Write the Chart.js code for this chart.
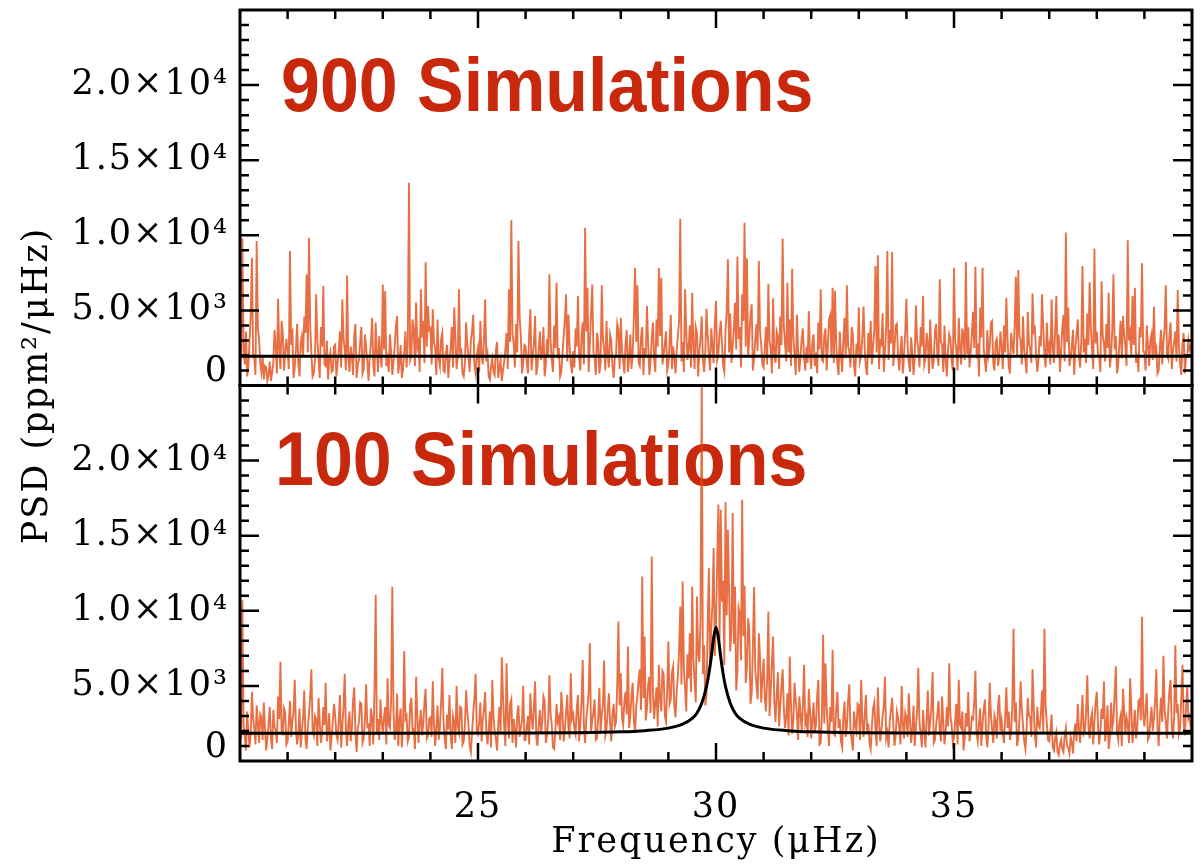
<!DOCTYPE html>
<html>
<head>
<meta charset="utf-8">
<title>PSD of simulated spectra</title>
<script src="https://cdn.jsdelivr.net/npm/chart.js@4.4.1/dist/chart.umd.min.js"></script>
<style>
  html, body { margin: 0; padding: 0; background: #fff; }
</style>
</head>
<body>
<canvas id="psdChart" width="1204" height="864"></canvas>
<script>
// Frequency sampling of the averaged spectra (μHz)
const binStart = 20;
const binWidth = 0.025;

// Averaged PSD, 900 simulations (ppm^2/μHz), one value per bin, 40 bins per μHz
const psd900 = [
  3200, 1800, 9780, 2500, 1400, 3600, 600, 1200, 2900, 4700, 8500, 2100, 1900, 700, 9620, 3800, 3100, 1500, 900, 2000,
  400, 1300, 1200, 300, 700, 1600, 300, 900, 1500, 3700, 2600, 800, 5780, 2400, 1100, 4300, 3400, 1000, 2200, 3100,
  2300, 1100, 8950, 2700, 3800, 500, 1200, 2400, 4100, 1500, 600, 2900, 3300, 1900, 4600, 3500, 7400, 2200, 9840, 4000,
  2100, 600, 800, 1700, 6070, 3100, 1700, 500, 3900, 2600, 6620, 1400, 1300, 3000, 400, 1800, 2200, 900, 1000, 2600,
  2700, 600, 1500, 2300, 3600, 1200, 5730, 3100, 2400, 1000, 7330, 1800, 900, 2600, 2000, 700, 3300, 4100, 500, 1400,
  1700, 2900, 3900, 800, 1100, 3400, 2500, 1600, 300, 1900, 2800, 4500, 1400, 600, 4200, 2300, 900, 3300, 2100, 1200,
  6730, 2400, 6290, 1300, 1800, 900, 3400, 2200, 700, 1600, 2600, 3900, 4620, 800, 1500, 2700, 500, 1100, 2300, 3600,
  1200, 2800, 13500, 1700, 2000, 4400, 3700, 1300, 5530, 2500, 2900, 900, 6400, 3200, 4300, 1500, 8200, 2600, 5290, 3700,
  3800, 1400, 5070, 2900, 2400, 700, 4400, 1800, 1300, 3100, 3500, 1000, 900, 2200, 2700, 500, 1600, 2500, 3900, 1200,
  5200, 3300, 1100, 1900, 6400, 2100, 2300, 800, 600, 1500, 4200, 2700, 1900, 900, 3000, 3600, 4730, 1300, 800, 2000,
  2500, 900, 4290, 2000, 1400, 3000, 5730, 1600, 2100, 600, 400, 1300, 1800, 900, 700, 2300, 2900, 500, 1200, 1700,
  300, 1000, 1600, 2400, 3500, 1100, 6400, 2900, 11000, 3400, 2800, 1200, 4100, 2200, 9620, 4500, 3300, 800, 1500, 2700,
  2600, 1500, 800, 3400, 5070, 1000, 2000, 2800, 4620, 700, 1300, 2400, 3600, 1700, 2200, 3900, 600, 1400, 3100, 2000,
  7400, 3000, 1700, 900, 4000, 2500, 6840, 1800, 2500, 600, 900, 2100, 3300, 4400, 6070, 1600, 4730, 2700, 1400, 800,
  2300, 1200, 3800, 2600, 5950, 1900, 1000, 3300, 4200, 1400, 10500, 3600, 6510, 900, 2700, 4800, 6730, 2200, 1900, 700,
  3500, 2900, 800, 1500, 6670, 3100, 2400, 1000, 4290, 2000, 1200, 3400, 3000, 1300, 500, 1800, 2100, 4100, 3700, 1100,
  4510, 2300, 1600, 800, 2800, 3700, 900, 1800, 3400, 1100, 2200, 4600, 7840, 2900, 6670, 1500, 1300, 3200, 3900, 700,
  2500, 1900, 5290, 2700, 700, 1600, 3100, 4200, 1800, 900, 4400, 2600, 7840, 3300, 7180, 1400, 2000, 2800, 3600, 1000,
  1400, 2900, 4700, 1100, 2600, 1800, 800, 2400, 3300, 4300, 11100, 1600, 2900, 900, 6400, 3700, 1700, 2500, 4000, 1200,
  6180, 2800, 1100, 3900, 3500, 600, 2300, 3100, 4600, 1700, 900, 2200, 5110, 3400, 2000, 1000, 3800, 2700, 1500, 4200,
  5620, 1700, 2100, 3500, 4300, 2800, 1300, 900, 3700, 4900, 8400, 2200, 4800, 1500, 2600, 3800, 5500, 2400, 8580, 3100,
  3900, 1200, 6070, 4300, 10840, 2600, 8470, 1900, 3200, 4700, 5400, 1000, 1800, 3000, 4100, 2300, 8290, 3600, 2700, 1400,
  1200, 2500, 3900, 1400, 6780, 3000, 2400, 800, 5800, 2100, 1500, 3600, 3300, 1100, 4600, 2700, 9780, 3900, 2900, 1600,
  6840, 2200, 4400, 1300, 7780, 3200, 2000, 700, 4730, 2300, 900, 1900, 3100, 3800, 1800, 1000, 2600, 1500, 4950, 2100,
  1100, 2900, 3400, 1300, 2200, 800, 4200, 2400, 6400, 1700, 1600, 3300, 3800, 1000, 2700, 4400, 4700, 2000, 6510, 1500,
  6300, 2800, 1400, 700, 3600, 2100, 900, 3000, 4500, 1800, 6670, 2600, 2300, 1200, 3900, 3400, 1300, 600, 2800, 1900,
  5200, 1600, 2000, 3300, 5250, 2400, 1200, 700, 3500, 2000, 4300, 1400, 2600, 3700, 7960, 2200, 8670, 1100, 3100, 2600,
  4800, 900, 2200, 3900, 8950, 1700, 3700, 2800, 8890, 1300, 2500, 4000, 4100, 1900, 1000, 2300, 3300, 800, 2100, 3500,
  5780, 2700, 1500, 900, 3200, 2100, 700, 1900, 5330, 3000, 2400, 1200, 3900, 2600, 5950, 1400, 1800, 3500, 2900, 800,
  4400, 2300, 1100, 1700, 3600, 4100, 2000, 1300, 7070, 2900, 2700, 900, 4000, 1600, 600, 2400, 3400, 3100, 1700, 1000,
  7840, 3000, 2300, 1000, 4500, 2600, 1400, 3800, 3300, 1700, 8220, 2100, 3900, 1200, 2200, 3400, 4900, 2500, 7910, 1800,
  2800, 600, 5200, 3200, 7840, 2400, 1600, 900, 3700, 2000, 2500, 4200, 4300, 1500, 1000, 2900, 3100, 1300, 1900, 3600,
  2600, 1100, 4000, 2200, 5840, 3100, 1300, 800, 3500, 2700, 2100, 4100, 7240, 1900, 7690, 3300, 3000, 1400, 4600, 2400,
  1700, 800, 4890, 2800, 2400, 1500, 6130, 3600, 3800, 2000, 900, 1700, 3300, 2600, 6070, 3900, 2000, 1200, 4200, 2300,
  2700, 1400, 5730, 2500, 1500, 3700, 5950, 2000, 3400, 900, 2200, 3800, 4700, 1600, 10180, 2900, 5200, 1300, 1800, 2600,
  3700, 700, 2500, 3400, 4400, 1900, 1200, 3000, 7960, 2200, 3100, 1500, 4800, 2700, 6870, 3900, 2300, 1100, 9110, 2800,
  3600, 2100, 1900, 900, 6940, 3300, 2800, 1600, 4100, 2500, 6180, 1200, 2000, 3700, 7400, 2400, 3300, 800, 1400, 2900,
  4300, 1800, 4620, 3400, 2600, 1300, 9670, 3000, 3500, 2000, 5950, 2700, 6510, 1500, 2100, 900, 3900, 3200, 8130, 2300,
  2200, 1000, 4000, 2700, 1300, 3000, 3400, 1700, 5250, 2200, 2500, 800, 1000, 2600, 3700, 1400, 2900, 3800, 6670, 2100,
  1800, 3300, 4200, 1100, 2300, 2900, 3600, 1600, 6350, 2600, 1500, 700, 2800, 3500, 800, 1900, 1900, 3000, 2400, 2700
];

// Averaged PSD, 100 simulations, same bins; the mode near 30 μHz stands out
const psd100 = [
  2800, 1500, 10700, 2400, 1600, 700, 3300, 2000, 900, 1800, 4600, 2900, 2200, 1100, 3700, 2600, 1200, 3100, 2900, 1400,
  3900, 2200, 700, 1500, 2500, 3600, 1500, 800, 3400, 2300, 2000, 1200, 4300, 2800, 6600, 1900, 1800, 3500, 3200, 1100,
  1300, 2500, 4000, 1600, 2600, 3300, 5400, 2100, 1100, 1800, 3500, 900, 2000, 2900, 4700, 1400, 800, 2300, 3100, 4400,
  6100, 2000, 1700, 3000, 2800, 1000, 4200, 2600, 1200, 1900, 3600, 2400, 5200, 1300, 1900, 3200, 700, 1600, 2700, 3800,
  3000, 1700, 1400, 2700, 4400, 900, 2300, 3600, 5800, 2000, 1000, 2500, 3300, 1300, 2100, 4000, 4900, 1800, 600, 2200,
  2600, 3900, 3800, 1200, 1500, 2800, 5100, 2300, 2400, 1000, 3500, 2900, 1100, 4600, 11070, 1900, 2800, 1400, 4100, 2600,
  1900, 2900, 3600, 1100, 5500, 2400, 2200, 4100, 11600, 3300, 1400, 2000, 4500, 1000, 2700, 3500, 900, 2300, 7300, 2800,
  3000, 1300, 1600, 3700, 4200, 2000, 2100, 800, 5600, 3000, 1200, 2500, 3400, 1700, 2500, 3900, 4800, 1500, 1700, 2800,
  2900, 1600, 5300, 2500, 1000, 2200, 3700, 1400, 2300, 3900, 6200, 2700, 1500, 800, 3100, 2100, 4400, 1700, 800, 3000,
  2600, 1200, 5000, 2300, 1900, 3600, 3500, 1100, 1300, 2400, 4700, 3300, 2400, 1000, 600, 1900, 3200, 4200, 5800, 2000,
  1800, 2600, 3900, 1300, 2700, 3400, 4600, 1900, 1100, 2200, 3300, 900, 5400, 3000, 2000, 1500, 700, 2400, 3600, 1800,
  6900, 4300, 2300, 1000, 6500, 2900, 1500, 3800, 4100, 1200, 2800, 2100, 900, 3200, 3700, 1600, 2200, 2700, 5000, 1400,
  1400, 2300, 3000, 1100, 4500, 2900, 2100, 3600, 5300, 1600, 1000, 2400, 3400, 1800, 2600, 4300, 4000, 1200, 1700, 2700,
  5700, 3100, 2400, 900, 800, 2000, 3800, 2600, 2900, 1400, 4600, 3300, 1300, 2100, 3200, 4400, 2200, 1500, 5840, 2800,
  3100, 2200, 1800, 3500, 4400, 1300, 2500, 3900, 6730, 2300, 1200, 2800, 3600, 4600, 7840, 1900, 2700, 3300, 4100, 1400,
  1500, 2900, 4870, 2000, 3000, 3800, 6690, 1700, 2100, 3400, 4500, 2500, 1300, 3100, 3800, 2300, 2600, 5000, 9290, 3700,
  5840, 2900, 2400, 4000, 4600, 3100, 7620, 2200, 3000, 4400, 5200, 2600, 1900, 3700, 4300, 5500, 6100, 3400, 12290, 4200,
  8290, 2700, 3500, 5100, 5600, 3200, 13620, 4700, 2800, 3900, 4900, 2300, 6400, 4100, 3300, 6000, 5800, 3000, 2600, 4800,
  7960, 3800, 4100, 5900, 6300, 3600, 2900, 4700, 5700, 7400, 10290, 5100, 11950, 6200, 4800, 3300, 7100, 5500, 8510, 4600,
  11620, 6800, 5300, 3900, 10950, 7200, 6600, 9400, 25400, 5800, 7700, 3700, 4400, 9100, 12840, 6100, 8800, 10400, 14180, 7000,
  9200, 13300, 17070, 8100, 16730, 10600, 12000, 6400, 17220, 9700, 15400, 11200, 7300, 8900, 16510, 7800, 11620, 4700, 5900, 10200,
  9800, 6700, 17400, 8300, 11670, 5200, 6200, 9500, 8700, 3800, 4500, 7600, 11580, 6000, 5100, 4100, 8510, 6900, 3900, 5600,
  6800, 4200, 3300, 5500, 9960, 3000, 4700, 6600, 8290, 3900, 2600, 4400, 5900, 2300, 3700, 5000, 6100, 3500, 2200, 2900,
  4500, 1700, 6960, 3800, 1800, 2700, 5200, 4100, 3100, 1400, 4300, 3200, 2000, 3600, 6400, 2500, 2900, 1600, 4800, 3400,
  1500, 2800, 3900, 1900, 2400, 4300, 5400, 1100, 1200, 3000, 8400, 2500, 6510, 3700, 2100, 1000, 3600, 2600, 7400, 1800,
  1700, 3500, 4600, 2200, 2800, 1300, 900, 2900, 3960, 1600, 2300, 4000, 5100, 2100, 1400, 700, 3300, 2400, 2000, 3800,
  3700, 1400, 5400, 2600, 1600, 3100, 4400, 1800, 2500, 1200, 800, 2300, 3500, 3900, 2100, 1000, 4900, 2700, 1300, 2000,
  3000, 3600, 5600, 1500, 1900, 900, 2700, 3400, 4200, 2400, 1000, 1700, 3300, 2900, 2200, 1100, 5000, 2600, 1500, 3200,
  2900, 1600, 4500, 2700, 1200, 2200, 3700, 1000, 2300, 3300, 6200, 2500, 1800, 900, 3400, 2100, 900, 2800, 4700, 1700,
  2600, 3600, 5900, 1200, 1400, 2400, 3100, 4000, 2000, 1300, 4300, 2600, 1100, 1900, 3600, 2300, 6500, 3000, 2400, 1200,
  1600, 2700, 3800, 1100, 5400, 2400, 2200, 3300, 700, 1500, 3200, 2300, 4600, 1300, 1900, 2900, 2800, 3900, 6000, 1800,
  1300, 2500, 3500, 1000, 2500, 3400, 4100, 1700, 900, 2200, 5200, 3100, 2100, 1200, 3000, 2600, 1500, 3700, 4400, 2000,
  2700, 1800, 1200, 2900, 4900, 2200, 3300, 1400, 2000, 3600, 8800, 2600, 3900, 1000, 1500, 2800, 5300, 3400, 2400, 1300,
  800, 2100, 4200, 3000, 2900, 1600, 6100, 3500, 1700, 900, 3600, 2400, 2200, 3100, 4700, 1900, 8800, 3700, 2500, 1400,
  1300, 2000, 3100, 900, 700, 1500, 1900, 600, 400, 1100, 1400, 800, 600, 1700, 2200, 1000, 900, 500, 1600, 1200,
  500, 1900, 2500, 1300, 3800, 2200, 1200, 2900, 4400, 1800, 2000, 3300, 5700, 2300, 1500, 2800, 3200, 1100, 2600, 3900,
  4600, 2400, 1100, 1900, 3500, 2800, 5300, 1300, 2100, 3700, 800, 1600, 3900, 2200, 2700, 4500, 6300, 1900, 1400, 2600,
  3000, 1000, 4800, 3300, 1800, 2900, 2500, 1200, 5500, 3600, 1200, 2300, 3400, 1500, 2200, 4000, 4100, 2700, 9600, 3100,
  2300, 3500, 4500, 1400, 1600, 2700, 3600, 2000, 2800, 4000, 6100, 2200, 1000, 3100, 4200, 2600, 7000, 3400, 2600, 1500,
  3300, 4700, 5400, 2300, 1500, 2900, 7700, 3200, 3800, 1800, 2200, 4300, 6400, 2500, 1700, 3600, 4900, 2800, 3000, 2100
];

// Fitted background / mode profiles
const fitFreq = [20, 26, 27, 28, 28.5, 29, 29.3, 29.5, 29.6, 29.7, 29.8, 29.85, 29.9, 29.95, 30,
                 30.05, 30.1, 30.15, 30.2, 30.3, 30.4, 30.5, 30.7, 31, 31.5, 32, 33, 34, 40];
const fit900 = [1950, 1950, 1950, 1950, 1950, 1950, 1950, 1950, 1950, 1950, 1950, 1950, 1950, 1950, 1950,
                1950, 1950, 1950, 1950, 1950, 1950, 1950, 1950, 1950, 1950, 1950, 1950, 1950, 1950];
const fit100 = [1850, 1860, 1880, 1940, 2020, 2190, 2450, 2830, 3200, 3850, 4950, 5800, 6900, 8200, 8900,
                8200, 6900, 5800, 4950, 3850, 3200, 2830, 2450, 2190, 2020, 1940, 1880, 1860, 1850];

const xLabelValues = [25, 30, 35];
const yLabelValues = [0, 5000, 10000, 15000, 20000];
const yLabelText = ['0', '5.0×10³', '1.0×10⁴', '1.5×10⁴', '2.0×10⁴'];
const panelCaptions = ['900 Simulations', '100 Simulations'];

const serif = 'DejaVu Serif';
const labelFont = { family: serif, size: 35 };
const noiseColor = 'rgba(226, 70, 14, 0.78)';
const captionColor = '#c8290c';

function binPoints(values) {
  return values.map((v, i) => ({ x: binStart + i * binWidth, y: v }));
}

function fitPoints(values) {
  return values.map((v, i) => ({ x: fitFreq[i], y: v }));
}

function yTickLabel(value) {
  const k = yLabelValues.indexOf(value);
  if (k < 0) return null;
  // zero sits a bit above its tick: give it an empty second line
  return value === 0 ? [yLabelText[k], ''] : yLabelText[k];
}

function yTickFont(ctx) {
  if (ctx.tick && ctx.tick.value === 0) return { family: serif, size: 35, lineHeight: 0.75 };
  return labelFont;
}

// Box frame with inward ticks on all four sides of each panel, plus the captions
const framePlugin = {
  id: 'panelFrame',
  beforeDraw(chart) {
    // the axis lettering is widely spaced
    chart.ctx.letterSpacing = '2px';
  },
  beforeDatasetsDraw(chart) {
    const { ctx, chartArea, scales } = chart;
    const spots = [
      [chartArea.left + 41, scales.yTop.top + 101],
      [chartArea.left + 35, scales.yBot.top + 99]
    ];
    ctx.save();
    ctx.letterSpacing = '0px';
    ctx.fillStyle = captionColor;
    ctx.font = 'bold 76px "Liberation Sans", Arial, sans-serif';
    ctx.textBaseline = 'alphabetic';
    spots.forEach(([px, py], k) => {
      ctx.save();
      ctx.translate(px, py);
      ctx.scale(0.92, 1);
      ctx.fillText(panelCaptions[k], 0, 0);
      ctx.restore();
    });
    ctx.restore();
  },
  afterDatasetsDraw(chart) {
    const { ctx, scales } = chart;
    const x = scales.x;
    ctx.save();
    ctx.strokeStyle = '#000';
    ['yTop', 'yBot'].forEach(id => {
      const y = scales[id];
      const top = y.top, bottom = y.bottom, left = x.left, right = x.right;
      ctx.lineWidth = 2.5;
      ctx.beginPath();
      for (let v = 1000; v < 25000; v += 1000) {
        const py = y.getPixelForValue(v);
        const len = v % 5000 === 0 ? 19 : 9;
        ctx.moveTo(left, py); ctx.lineTo(left + len, py);
        ctx.moveTo(right, py); ctx.lineTo(right - len, py);
      }
      for (let f = 21; f < 40; f++) {
        const px = x.getPixelForValue(f);
        const len = f % 5 === 0 ? 18 : 9;
        ctx.moveTo(px, bottom); ctx.lineTo(px, bottom - len);
        ctx.moveTo(px, top); ctx.lineTo(px, top + len);
      }
      ctx.stroke();
      ctx.lineWidth = 3;
      ctx.strokeRect(left, top, right - left, bottom - top);
    });
    ctx.restore();
  }
};

function yAxis() {
  return {
    type: 'linear',
    position: 'left',
    stack: 'psd',
    stackWeight: 1,
    min: 0,
    max: 25000,
    grid: { display: false },
    border: { display: false },
    ticks: { stepSize: 5000, autoSkip: false, callback: yTickLabel, font: yTickFont, color: '#000', padding: 3 },
    afterFit(s) { s.width = 181; s.paddingTop = 0; s.paddingBottom = 0; }
  };
}

const ctx = document.getElementById('psdChart').getContext('2d');

new Chart(ctx, {
  type: 'line',
  data: {
    datasets: [
      { data: fitPoints(fit900), yAxisID: 'yTop', borderColor: '#000', borderWidth: 3, pointRadius: 0, order: 0 },
      { data: fitPoints(fit100), yAxisID: 'yBot', borderColor: '#000', borderWidth: 3, pointRadius: 0,
        cubicInterpolationMode: 'monotone', order: 0 },
      { data: binPoints(psd900), yAxisID: 'yTop', borderColor: noiseColor, borderWidth: 1.9, pointRadius: 0, order: 1 },
      { data: binPoints(psd100), yAxisID: 'yBot', borderColor: noiseColor, borderWidth: 1.9, pointRadius: 0, order: 1 }
    ]
  },
  options: {
    responsive: false,
    animation: false,
    devicePixelRatio: 1,
    layout: { padding: { top: 10, right: 12, left: 0, bottom: 0 } },
    scales: {
      x: {
        type: 'linear',
        min: 20,
        max: 40,
        grid: { display: false },
        border: { display: false },
        ticks: {
          stepSize: 1,
          autoSkip: false,
          maxRotation: 0,
          padding: 18,
          font: labelFont,
          color: '#000',
          callback: v => xLabelValues.includes(v) ? String(v) : null
        },
        title: { display: true, text: 'Frequency (μHz)', font: labelFont, color: '#000', padding: { top: 0, bottom: 0 } },
        afterFit(s) { s.height = 103; s.paddingLeft = 0; s.paddingRight = 0; }
      },
      // listed bottom first so the 900-run panel lands on top of the stack
      yBot: yAxis(),
      yTop: yAxis()
    },
    plugins: {
      legend: { display: false },
      tooltip: { enabled: false },
      title: {
        display: true,
        position: 'left',
        fullSize: false,
        text: 'PSD (ppm²/μHz)',
        font: { family: serif, size: 35, weight: 'normal' },
        color: '#000',
        padding: { top: 17, bottom: 0 }
      }
    }
  },
  plugins: [framePlugin]
});
</script>
</body>
</html>
